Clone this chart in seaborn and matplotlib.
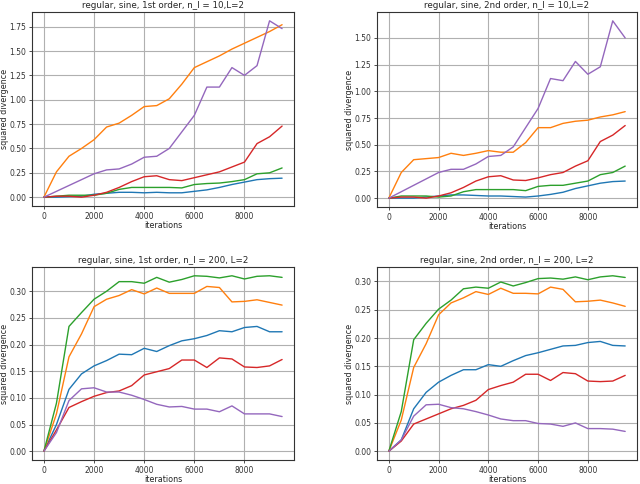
import numpy as np
import pandas as pd
import matplotlib
matplotlib.use("Agg")
import matplotlib.pyplot as plt
import seaborn as sns

sns.set_style("ticks")
plt.rcParams['font.family'] = ['DejaVu Sans']

iters = list(range(0, 10000, 500))
series_names = ['blue', 'orange', 'green', 'red', 'purple']
colors = ['#1f77b4', '#ff7f0e', '#2ca02c', '#d62728', '#9467bd']

# n_l = 10, 1st order
tl_blue = [0, 0.0, 0.005, 0.01, 0.03, 0.04, 0.05, 0.05, 0.045, 0.05, 0.045, 0.045, 0.06, 0.075, 0.10, 0.13, 0.155, 0.18, 0.19, 0.195]
tl_orange = [0, 0.26, 0.42, 0.50, 0.59, 0.72, 0.76, 0.84, 0.93, 0.94, 1.01, 1.16, 1.33, 1.39, 1.45, 1.52, 1.58, 1.64, 1.70, 1.77]
tl_green = [0, 0.01, 0.02, 0.02, 0.02, 0.04, 0.08, 0.10, 0.10, 0.10, 0.10, 0.095, 0.13, 0.14, 0.145, 0.16, 0.18, 0.24, 0.25, 0.30]
tl_red = [0, 0.01, 0.01, 0.0, 0.02, 0.05, 0.10, 0.16, 0.21, 0.22, 0.18, 0.17, 0.20, 0.23, 0.26, 0.31, 0.36, 0.55, 0.62, 0.73]
tl_purple = [0, 0.06, 0.12, 0.18, 0.24, 0.28, 0.29, 0.34, 0.41, 0.42, 0.50, 0.67, 0.84, 1.13, 1.13, 1.33, 1.25, 1.35, 1.81, 1.73]

# n_l = 10, 2nd order
tr_blue = [0, 0.0, 0.0, 0.01, 0.02, 0.03, 0.03, 0.025, 0.02, 0.02, 0.015, 0.01, 0.02, 0.035, 0.055, 0.09, 0.115, 0.14, 0.155, 0.16]
tr_orange = [0, 0.24, 0.36, 0.37, 0.38, 0.42, 0.40, 0.42, 0.445, 0.43, 0.43, 0.52, 0.66, 0.66, 0.70, 0.72, 0.73, 0.76, 0.78, 0.81]
tr_green = [0, 0.02, 0.02, 0.02, 0.01, 0.02, 0.06, 0.08, 0.08, 0.08, 0.08, 0.07, 0.11, 0.12, 0.12, 0.14, 0.16, 0.22, 0.24, 0.30]
tr_red = [0, 0.01, 0.01, 0.0, 0.02, 0.05, 0.10, 0.16, 0.20, 0.21, 0.17, 0.165, 0.19, 0.22, 0.24, 0.30, 0.35, 0.53, 0.59, 0.68]
tr_purple = [0, 0.06, 0.12, 0.18, 0.24, 0.27, 0.27, 0.32, 0.39, 0.40, 0.48, 0.66, 0.84, 1.12, 1.10, 1.28, 1.16, 1.23, 1.66, 1.50]

# n_l = 200, 1st order
bl_blue = [0, 0.05, 0.116, 0.145, 0.16, 0.17, 0.182, 0.181, 0.193, 0.187, 0.198, 0.207, 0.211, 0.217, 0.226, 0.224, 0.232, 0.234, 0.224, 0.224]
bl_orange = [0, 0.07, 0.177, 0.22, 0.271, 0.285, 0.292, 0.303, 0.295, 0.306, 0.296, 0.296, 0.296, 0.309, 0.307, 0.280, 0.281, 0.284, 0.279, 0.274]
bl_green = [0, 0.09, 0.234, 0.26, 0.285, 0.30, 0.318, 0.318, 0.315, 0.326, 0.317, 0.322, 0.329, 0.328, 0.325, 0.329, 0.323, 0.328, 0.329, 0.326]
bl_red = [0, 0.04, 0.082, 0.093, 0.103, 0.110, 0.113, 0.123, 0.143, 0.149, 0.155, 0.171, 0.171, 0.157, 0.175, 0.173, 0.158, 0.157, 0.160, 0.172]
bl_purple = [0, 0.035, 0.095, 0.117, 0.119, 0.111, 0.111, 0.105, 0.097, 0.088, 0.083, 0.084, 0.079, 0.079, 0.074, 0.085, 0.070, 0.070, 0.070, 0.065]

# n_l = 200, 2nd order
br_blue = [0, 0.02, 0.075, 0.104, 0.122, 0.134, 0.144, 0.144, 0.153, 0.150, 0.160, 0.169, 0.174, 0.180, 0.186, 0.187, 0.192, 0.194, 0.187, 0.186]
br_orange = [0, 0.055, 0.148, 0.19, 0.241, 0.262, 0.271, 0.282, 0.277, 0.288, 0.279, 0.279, 0.278, 0.290, 0.286, 0.264, 0.265, 0.267, 0.262, 0.256]
br_green = [0, 0.07, 0.197, 0.226, 0.251, 0.267, 0.287, 0.290, 0.288, 0.299, 0.292, 0.298, 0.305, 0.306, 0.304, 0.308, 0.303, 0.308, 0.310, 0.307]
br_red = [0, 0.018, 0.048, 0.057, 0.066, 0.075, 0.081, 0.090, 0.109, 0.116, 0.122, 0.136, 0.136, 0.125, 0.139, 0.137, 0.124, 0.123, 0.124, 0.134]
br_purple = [0, 0.02, 0.062, 0.082, 0.083, 0.077, 0.075, 0.070, 0.064, 0.057, 0.054, 0.054, 0.049, 0.048, 0.044, 0.050, 0.040, 0.040, 0.039, 0.035]

panels = [
    ("regular, sine, 1st order, n_l = 10,L=2", [tl_blue, tl_orange, tl_green, tl_red, tl_purple], (32, 12, 294, 206)),
    ("regular, sine, 2nd order, n_l = 10,L=2", [tr_blue, tr_orange, tr_green, tr_red, tr_purple], (377, 12, 637, 207)),
    ("regular, sine, 1st order, n_l = 200, L=2", [bl_blue, bl_orange, bl_green, bl_red, bl_purple], (32, 267, 294, 460)),
    ("regular, sine, 2nd order, n_l = 200, L=2", [br_blue, br_orange, br_green, br_red, br_purple], (377, 267, 637, 460)),
]

W, H = 640, 484
fig = plt.figure(figsize=(6.4, 4.84), dpi=100)

for title, series, (x0, y0, x1, y1) in panels:
    ax = fig.add_axes([x0 / W, 1 - y1 / H, (x1 - x0) / W, (y1 - y0) / H])
    df = pd.DataFrame({'iterations': iters * len(series),
                       'value': sum(series, []),
                       'run': np.repeat(series_names, len(iters))})
    sns.lineplot(data=df, x='iterations', y='value', hue='run', palette=colors,
                 linewidth=1.0, legend=False, ax=ax)
    ax.grid(True, color='#b0b0b0', linewidth=0.8)
    ax.set_xticks([0, 2000, 4000, 6000, 8000])
    ax.tick_params(labelsize=5.5, length=2.5, width=0.6, pad=1.5, colors='#333333')
    ax.set_title(title, fontsize=6.3, pad=3)
    ax.set_xlabel('iterations', fontsize=5.8, labelpad=0)
    ax.set_ylabel('squared divergence', fontsize=5.8, labelpad=0.5)
    for sp in ax.spines.values():
        sp.set_visible(True)
        sp.set_color('#333333')
        sp.set_linewidth(0.8)

fig.savefig('out.png', dpi=100)
